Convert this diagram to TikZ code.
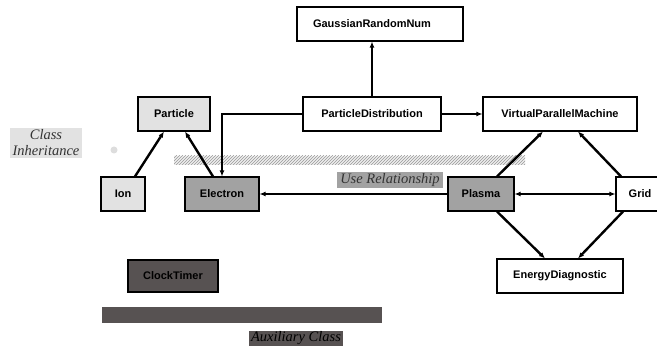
\documentclass[tikz,border=0pt]{standalone}
\usepackage{fontspec}
\setmainfont{Liberation Serif}
\setsansfont{Liberation Sans}
\usetikzlibrary{arrows.meta,patterns}
\definecolor{lightbox}{HTML}{E2E2E2}
\definecolor{midbox}{HTML}{A2A2A2}
\definecolor{darkbox}{HTML}{575252}
\definecolor{dotgray}{HTML}{DDDDDD}
\begin{document}
\begin{tikzpicture}[x=1pt,y=-1pt,
  cls/.style={draw=black, line width=1.1pt, fill=white, inner sep=0pt,
    font=\sffamily\bfseries\fontsize{11}{13}\selectfont},
  lbl/.style={inner sep=1.5pt, font=\rmfamily\itshape\fontsize{14.5}{16}\selectfont},
  arr/.style={-{Latex[length=6pt,width=5pt]}, line width=2.4pt},
  darr/.style={{Latex[length=6pt,width=5pt]}-{Latex[length=6pt,width=5pt]}, line width=2.4pt}]
\useasboundingbox (0,0) rectangle (657,350);
\fill[white] (0,0) rectangle (657,350);

% bars
\fill[lightbox!60] (174,156) rectangle (525,165);
\pattern[pattern=north east lines, pattern color=gray!80] (174,156) rectangle (525,165);
\fill[darkbox] (102,307) rectangle (382,323);
\fill[dotgray] (114,150) circle (3.5);

% nodes
\node[cls, minimum width=166, minimum height=34] (grn) at (380,24) {\hspace*{-16pt}GaussianRandomNum};
\node[cls, fill=lightbox, minimum width=72, minimum height=34] (particle) at (174,114) {Particle};
\node[cls, minimum width=138, minimum height=34] (pd) at (372,114) {ParticleDistribution};
\node[cls, minimum width=154, minimum height=34] (vpm) at (560,114) {VirtualParallelMachine};
\node[cls, fill=lightbox, minimum width=44, minimum height=34] (ion) at (123,194) {Ion};
\node[cls, fill=midbox, minimum width=74, minimum height=34] (electron) at (222,194) {Electron};
\node[cls, fill=midbox, minimum width=66, minimum height=34] (plasma) at (481,194) {Plasma};
\node[cls, minimum width=48, minimum height=34] (grid) at (640,194) {Grid};
\node[cls, minimum width=126, minimum height=34] (ed) at (560,276) {EnergyDiagnostic};
\node[cls, fill=darkbox, minimum width=90, minimum height=32] (clock) at (173,276) {ClockTimer};

% labels
\node[lbl, fill=lightbox, text=black!80, align=center, minimum width=72, minimum height=30, inner sep=0pt] (inh) at (46,143) {Class\\Inheritance};
\node[lbl, fill=midbox, text=black!80, minimum width=106, minimum height=16, inner sep=0pt] (use) at (390,180) {Use Relationship};
\node[lbl, fill=darkbox, text=black, minimum width=94, minimum height=15, inner sep=0pt] (aux) at (296,338.5) {Auxiliary Class};

% connectors
\draw[arr] ([xshift=12]ion.north) -- ([xshift=-10]particle.south);
\draw[arr] ([xshift=-9]electron.north) -- ([xshift=11]particle.south);
\draw[arr] (pd.west) -| (electron.north);
\draw[arr] (pd.north) -- (pd.north |- grn.south);
\draw[arr] (pd.east) -- (vpm.west);
\draw[arr] ([xshift=16]plasma.north) -- ([xshift=-17]vpm.south);
\draw[arr] ([xshift=-19]grid.north) -- ([xshift=18]vpm.south);
\draw[darr] (plasma.east) -- (grid.west);
\draw[arr] (plasma.west) -- (electron.east);
\draw[arr] ([xshift=16]plasma.south) -- ([xshift=-15]ed.north);
\draw[arr] ([xshift=-17]grid.south) -- ([xshift=18]ed.north);
\end{tikzpicture}
\end{document}
